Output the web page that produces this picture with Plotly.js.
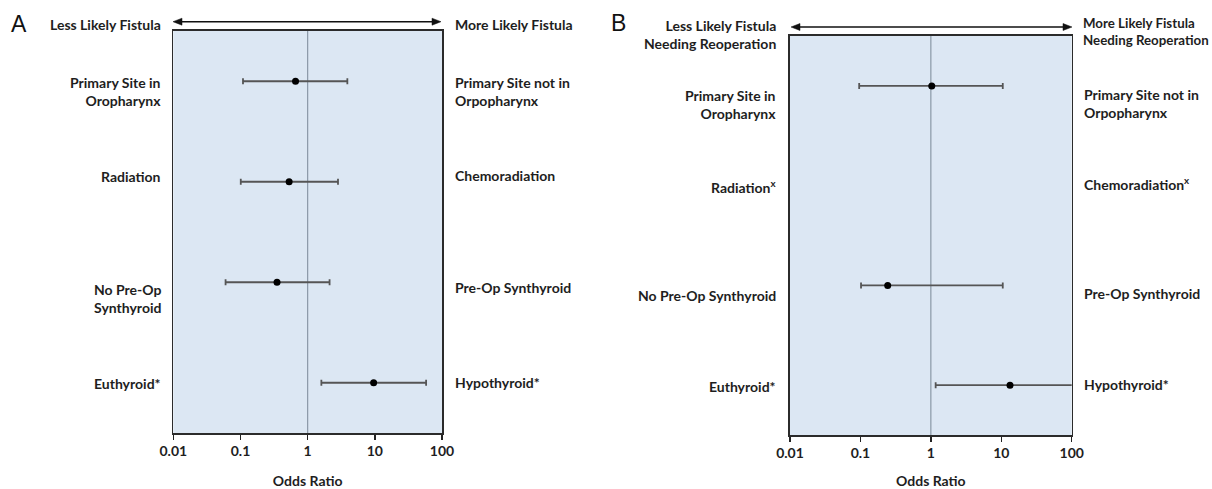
<!DOCTYPE html>
<html>
<head>
<meta charset="utf-8">
<script src="https://cdn.plot.ly/plotly-3.0.1.min.js"></script>
<style>html,body{margin:0;padding:0;background:#fff;}#chart{width:1212px;height:489px;}</style>
</head>
<body>
<div id="chart"></div>
<script>
// ---------- data ----------
const tickVals = [0.01, 0.1, 1, 10, 100];
const tickText = ["0.01", "0.1", "1", "10", "100"];
const rowsA = [1, 2, 3, 4];
const leftLabelsA = ["Primary Site in<br>Oropharynx", "Radiation", "No Pre-Op<br>Synthyroid", "Euthyroid*"];
const rightLabelsA = ["Primary Site not in<br>Orpopharynx", "Chemoradiation", "Pre-Op Synthyroid", "Hypothyroid*"];
const orA = [0.66, 0.53, 0.35, 9.6];
const lowA = [0.109, 0.101, 0.06, 1.6];
const highA = [3.9, 2.83, 2.12, 58];

const rowsB = [1, 2, 3, 4];
const leftLabelsB = ["Primary Site in<br>Oropharynx", "Radiation<sup>x</sup>", "No Pre-Op Synthyroid", "Euthyroid*"];
const rightLabelsB = ["Primary Site not in<br>Orpopharynx", "Chemoradiation<sup>x</sup>", "Pre-Op Synthyroid", "Hypothyroid*"];
const orB = [1.03, null, 0.244, 13.3];
const lowB = [0.096, null, 0.102, 1.17];
const highB = [10.5, null, 10.5, 150];

const headerA = ["Less Likely Fistula", "More Likely Fistula"];
const headerB = ["Less Likely Fistula<br>Needing Reoperation", "More Likely Fistula<br>Needing Reoperation"];
const panelLetters = ["A", "B"];
const xTitle = "Odds Ratio";

// ---------- layout constants (pixels -> paper) ----------
const W = 1212, H = 489;
const px = v => v / W;
const py = v => (H - v) / H;
// label vertical shifts (in row units, + = down)
const shiftLA = [0.10, -0.057, 0.16, 0.01];
const shiftRA = [0.10, -0.067, 0.057, 0.0];
const shiftLB = [0.19, 0.007, 0.10, 0.01];
const shiftRB = [0.175, -0.02, 0.077, -0.01];

const FONT = "Lato, 'Open Sans', sans-serif";
const TXT = "#1e1e1e";
const FS = 14;

function errTrace(rows, or, low, high, xa, ya) {
  return {
    type: "scatter", mode: "markers", x: or, y: rows, xaxis: xa, yaxis: ya,
    marker: {color: "#000", size: 7},
    error_x: {
      type: "data", symmetric: false,
      array: or.map((v, i) => v == null ? null : high[i] - v),
      arrayminus: or.map((v, i) => v == null ? null : v - low[i]),
      color: "#555555", thickness: 1.8, width: 3
    },
    cliponaxis: true, hoverinfo: "skip", showlegend: false
  };
}
function refLine(xa, ya) {
  return {type: "scatter", mode: "lines", x: [1, 1], y: [0.5, 4.5], xaxis: xa, yaxis: ya,
    line: {color: "#8a98a6", width: 1.2}, hoverinfo: "skip", showlegend: false};
}

const traces = [
  refLine("x", "y"), errTrace(rowsA, orA, lowA, highA, "x", "y"),
  refLine("x2", "y2"), errTrace(rowsB, orB, lowB, highB, "x2", "y2")
];

function xaxisDef(domain, anchor) {
  return {
    domain: domain, anchor: anchor, type: "log", range: [-2, 2],
    tickvals: tickVals, ticktext: tickText, ticks: "outside", ticklen: 5, tickwidth: 1.5,
    tickcolor: "#222", showline: true, mirror: true, linecolor: "#2b2b2b", linewidth: 1.6,
    showgrid: false, zeroline: false,
    tickfont: {family: FONT, size: FS, color: TXT, weight: "bold"},
    title: {text: xTitle, font: {family: FONT, size: FS, color: TXT, weight: "bold"}, standoff: 19}
  };
}
function yaxisDef(domain, anchor) {
  return {
    domain: domain, anchor: anchor, range: [4.5, 0.5], showticklabels: false, ticks: "",
    showline: true, mirror: true, linecolor: "#2b2b2b", linewidth: 1.6,
    showgrid: false, zeroline: false
  };
}

const annotations = [];
const lab = (text, x, yref, y, xanchor, size) => ({
  text: text, x: x, xref: "paper", y: y, yref: yref, xanchor: xanchor, yanchor: "middle",
  showarrow: false, align: xanchor === "right" ? "right" : "left",
  font: {family: FONT, size: size || FS, color: TXT, weight: "bold"}
});
rowsA.forEach((r, i) => {
  annotations.push(lab(leftLabelsA[i], px(163), "y", r + shiftLA[i], "right"));
  annotations.push(lab(rightLabelsA[i], px(453), "y", r + shiftRA[i], "left"));
});
rowsB.forEach((r, i) => {
  annotations.push(lab(leftLabelsB[i], px(778), "y2", r + shiftLB[i], "right"));
  annotations.push(lab(rightLabelsB[i], px(1082), "y2", r + shiftRB[i], "left"));
});
annotations.push(lab(headerA[0], px(163), "paper", py(24.5), "right"));
annotations.push(lab(headerA[1], px(453), "paper", py(24), "left"));
annotations.push(lab(headerB[0], px(778), "paper", py(34), "right"));
annotations.push(lab(headerB[1], px(1081), "paper", py(32), "left", 13.3));
// panel letters
annotations.push({text: panelLetters[0], x: px(19), y: py(24), xref: "paper", yref: "paper",
  xanchor: "center", yanchor: "middle", showarrow: false,
  font: {family: "'Liberation Sans', Arial, sans-serif", size: 23, color: "#111"}});
annotations.push({text: panelLetters[1], x: px(618), y: py(23), xref: "paper", yref: "paper",
  xanchor: "center", yanchor: "middle", showarrow: false,
  font: {family: "'Liberation Sans', Arial, sans-serif", size: 23, color: "#111"}});

// double-headed arrows drawn as shapes
function dblArrowShapes(x0, x1, y) {
  const hl = 9, hh = 3.5;
  const P = (xx, yy) => px(xx) + "," + py(yy);
  return [
    {type: "line", xref: "paper", yref: "paper", x0: px(x0 + hl - 1), x1: px(x1 - hl + 1), y0: py(y), y1: py(y),
      line: {color: "#111", width: 1.4}},
    {type: "path", xref: "paper", yref: "paper",
      path: "M" + P(x0, y) + " L" + P(x0 + hl, y - hh) + " L" + P(x0 + hl, y + hh) + " Z",
      fillcolor: "#111", line: {color: "#111", width: 0.5}},
    {type: "path", xref: "paper", yref: "paper",
      path: "M" + P(x1, y) + " L" + P(x1 - hl, y - hh) + " L" + P(x1 - hl, y + hh) + " Z",
      fillcolor: "#111", line: {color: "#111", width: 0.5}}
  ];
}
const shapes = [].concat(dblArrowShapes(173, 441, 21.7), dblArrowShapes(791, 1072, 27));

const layout = {
  width: W, height: H, margin: {l: 0, r: 0, t: 0, b: 0},
  paper_bgcolor: "#ffffff", plot_bgcolor: "#dce7f3",
  showlegend: false,
  xaxis: xaxisDef([px(173.3), px(442)], "y"),
  yaxis: yaxisDef([1 - 433 / H, 1 - 31 / H], "x"),
  xaxis2: xaxisDef([px(790), px(1071.7)], "y2"),
  yaxis2: yaxisDef([1 - 435 / H, 1 - 36 / H], "x2"),
  annotations: annotations,
  shapes: shapes
};

Plotly.newPlot("chart", traces, layout, {displayModeBar: false, staticPlot: true});
</script>
</body>
</html>
